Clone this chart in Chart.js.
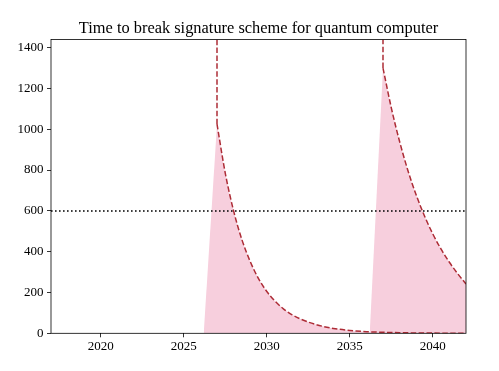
<!DOCTYPE html>
<html>
<head>
<meta charset="utf-8">
<script src="https://cdn.jsdelivr.net/npm/chart.js@4"></script>
<style>
  html, body { margin: 0; padding: 0; background: #fff; }
  #wrap { width: 499px; height: 371px; }
</style>
</head>
<body>
<div id="wrap"><canvas id="chart"></canvas></div>
<script>
// axis ranges and ticks
const xMin = 2017, xMax = 2042;
const yMin = 0, yMax = 1440;
const xTicks = [2020, 2025, 2030, 2035, 2040];
const yTicks = [0, 200, 400, 600, 800, 1000, 1200, 1400];
const threshold = 600;

// first curve (break time after the first jump)
const years1 = [2027, 2027.5, 2028, 2028.5, 2029, 2029.5, 2030, 2030.5, 2031, 2031.5, 2032, 2033, 2034, 2035, 2036, 2037, 2038, 2039, 2040, 2041, 2042];
const time1 = [1025, 784, 600, 459, 352, 268, 205, 157, 120, 92, 71, 42, 24, 14, 8, 5, 3, 1.7, 1, 0.6, 0.3];

// second curve
const years2 = [2037, 2037.5, 2038, 2038.5, 2039, 2039.5, 2040, 2040.5, 2041, 2041.5, 2042];
const time2 = [1300, 1105, 940, 798, 678, 575, 487, 412, 348, 292, 242];

// where the shaded area starts rising before each jump
const fillStart = [2026.2, 2036.2];

const lineColor = "#ad2c36";
const fillColor = "rgb(247, 207, 221)";

const pts = (xs, ys) => xs.map((x, i) => ({ x: x, y: ys[i] }));

const rise = (start, x, y) => [{ x: start, y: 0 }, { x: x, y: y }, { x: x, y: 0 }];

const jump = (x, y) => [{ x: x, y: y }, { x: x, y: yMax }];

const frame = {
  id: "frame",
  afterDraw(chart) {
    const a = chart.chartArea;
    const ctx = chart.ctx;
    ctx.save();
    ctx.strokeStyle = "#000";
    ctx.lineWidth = 0.8;
    ctx.strokeRect(a.left, a.top, a.right - a.left, a.bottom - a.top);
    ctx.restore();
  },
};

const tickFont = { family: "Liberation Serif", size: 13 };

new Chart(document.getElementById("chart"), {
  type: "scatter",
  data: {
    datasets: [
      // shading
      { data: rise(fillStart[0], years1[0], time1[0]), showLine: true, fill: "origin", backgroundColor: fillColor, borderWidth: 0, pointRadius: 0, tension: 0, order: 5 },
      { data: pts(years1, time1), showLine: true, fill: "origin", backgroundColor: fillColor, borderWidth: 0, pointRadius: 0, cubicInterpolationMode: "monotone", order: 5 },
      { data: rise(fillStart[1], years2[0], time2[0]), showLine: true, fill: "origin", backgroundColor: fillColor, borderWidth: 0, pointRadius: 0, tension: 0, order: 5 },
      { data: pts(years2, time2), showLine: true, fill: "origin", backgroundColor: fillColor, borderWidth: 0, pointRadius: 0, cubicInterpolationMode: "monotone", order: 5 },
      // threshold
      { data: [{ x: xMin, y: threshold }, { x: xMax, y: threshold }], showLine: true, borderColor: "#000", borderWidth: 1.5, borderDash: [1.6, 2.4], pointRadius: 0, order: 2 },
      // dashed curves
      { data: jump(years1[0], time1[0]), showLine: true, borderColor: lineColor, borderWidth: 1.5, borderDash: [5.5, 2.4], pointRadius: 0, tension: 0, order: 1 },
      { data: pts(years1, time1), showLine: true, borderColor: lineColor, borderWidth: 1.5, borderDash: [5.5, 2.4], pointRadius: 0, cubicInterpolationMode: "monotone", order: 1 },
      { data: jump(years2[0], time2[0]), showLine: true, borderColor: lineColor, borderWidth: 1.5, borderDash: [5.5, 2.4], pointRadius: 0, tension: 0, order: 1 },
      { data: pts(years2, time2), showLine: true, borderColor: lineColor, borderWidth: 1.5, borderDash: [5.5, 2.4], pointRadius: 0, cubicInterpolationMode: "monotone", order: 1 },
    ],
  },
  options: {
    responsive: true,
    maintainAspectRatio: false,
    animation: false,
    layout: { padding: { left: 0, right: 33, top: 0, bottom: 0 } },
    plugins: {
      legend: { display: false },
      tooltip: { enabled: false },
      title: {
        display: true,
        fullSize: false, // centre over the plot area, like matplotlib
        text: "Time to break signature scheme for quantum computer",
        color: "#000",
        font: { family: "Liberation Serif", size: 16.4, weight: "normal" },
        padding: { top: 18.5, bottom: 1.3 },
      },
    },
    scales: {
      x: {
        type: "linear",
        min: xMin,
        max: xMax,
        afterBuildTicks: (s) => { s.ticks = xTicks.map((v) => ({ value: v })); },
        afterFit: (s) => { s.height = 37.7; },
        border: { display: false },
        grid: { drawOnChartArea: false, drawTicks: true, tickLength: 4, color: "#000", lineWidth: 0.8 },
        ticks: { color: "#000", font: tickFont, padding: 1.2, maxRotation: 0, callback: (v) => String(v) },
      },
      y: {
        type: "linear",
        min: yMin,
        max: yMax,
        afterBuildTicks: (s) => { s.ticks = yTicks.map((v) => ({ value: v })); },
        afterFit: (s) => { s.width = 51; },
        border: { display: false },
        grid: { drawOnChartArea: false, drawTicks: true, tickLength: 4, color: "#000", lineWidth: 0.8 },
        ticks: { color: "#000", font: tickFont, padding: 3.5, callback: (v) => String(v) },
      },
    },
  },
  plugins: [frame],
});
</script>
</body>
</html>
